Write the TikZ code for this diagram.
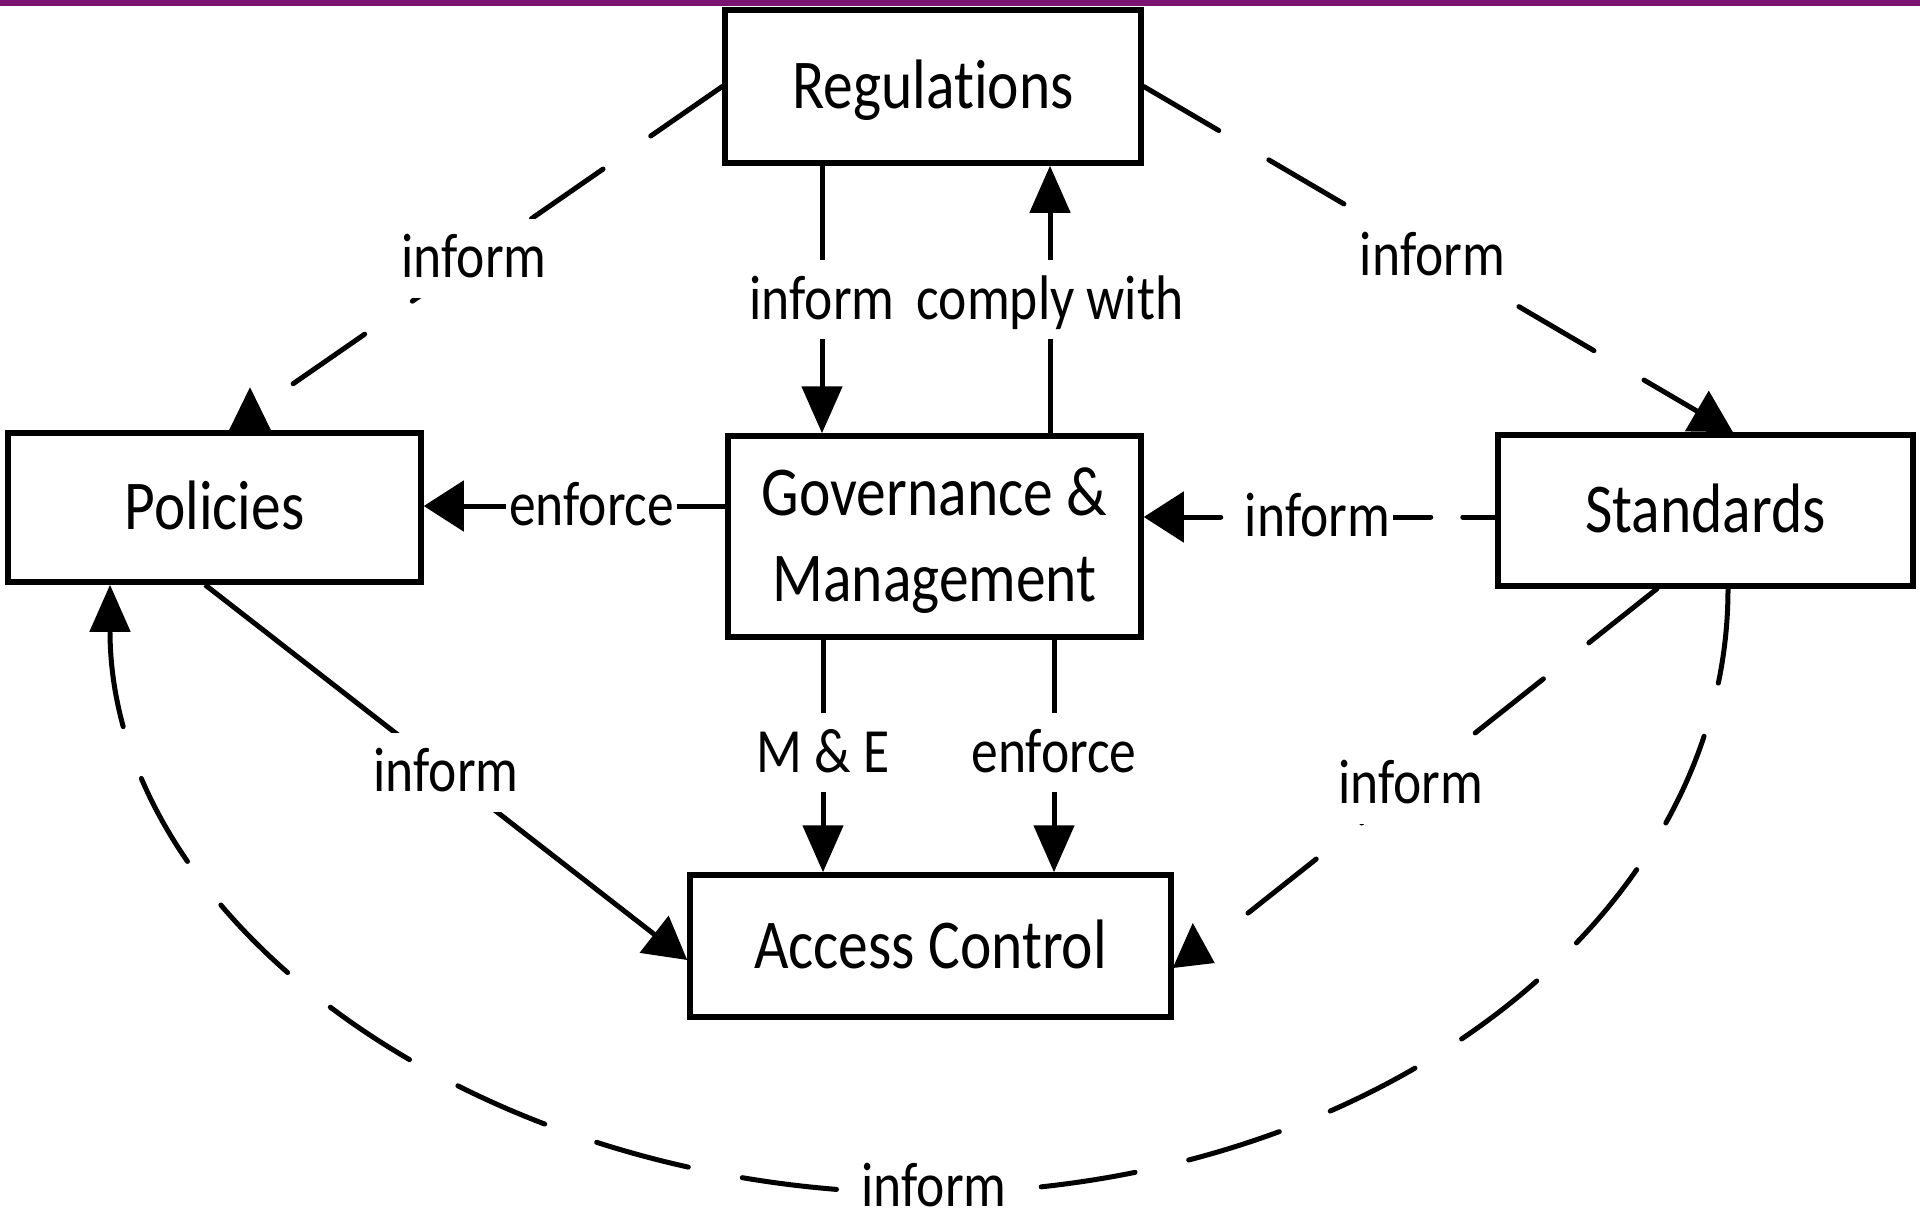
\documentclass[tikz,border=0pt]{standalone}
\usepackage{fontspec}
\setmainfont{Carlito}[FakeStretch=0.85, Ligatures=NoCommon]
\usetikzlibrary{arrows.meta}
\definecolor{barpurple}{RGB}{123,20,112}

\begin{document}
\begin{tikzpicture}[x=1pt,y=-1pt,
  box/.style={draw, line width=5.5pt, inner sep=0pt, font=\fontsize{70}{86}\selectfont},
  boxone/.style={box, text height=44pt, text depth=0pt},
  lab/.style={fill=white, inner xsep=3pt, inner ysep=20pt,
    font=\fontsize{63}{70}\selectfont, text height=39pt, text depth=0pt},
  conn/.style={line width=5pt},
  dashedline/.style={conn, line cap=round, dash pattern=on 87pt off 58pt},
  tipV/.style={-{Triangle[length=47pt,width=40pt]}},
  tipH/.style={-{Triangle[length=40pt,width=50pt]}},
  tipD/.style={-{Triangle[length=42pt,width=46pt]}},
]
\useasboundingbox (0,0) rectangle (1920,1223);

% top rule
\fill[barpurple] (0,0) rectangle (1920,6);

% boxes
\node[boxone, minimum width=416pt, minimum height=153pt] (reg) at (933,86.5) {Regulations};
\node[boxone, minimum width=413pt, minimum height=149pt] (pol) at (214.5,507.5) {Policies};
\node[box, minimum width=413pt, minimum height=201pt, align=center] (gov) at (934.5,536.5)
  {\rule{0pt}{56pt}Governance \&\\Management};
\node[boxone, minimum width=415pt, minimum height=151pt] (std) at (1705.5,510.5) {Standards};
\node[boxone, minimum width=481pt, minimum height=142pt] (acc) at (930.5,946) {Access Control};

% regulations <-> governance
\draw[conn, tipV] ([xshift=-111pt]reg.south) -- node[lab]{inform} ([xshift=-111pt]reg.south |- gov.north);
\draw[conn, tipV] ([xshift=117pt]reg.south |- gov.north) -- node[lab]{comply with} ([xshift=117pt]reg.south);

% governance -> policies
\draw[conn, tipH] ([yshift=30.5pt]gov.west) -- node[lab, pos=0.443]{enforce} ([yshift=30.5pt]gov.west -| pol.east);

% standards -> governance
\draw[conn, tipH, line cap=round, dash pattern=on 38pt off 32pt, dash phase=5.5pt]
  ([yshift=-6.5pt]std.west) -- node[lab, pos=0.506]{inform} ([yshift=-6.5pt]std.west -| gov.east);

% governance -> access control
\draw[conn, tipV] ([xshift=-111.5pt]gov.south) -- node[lab, pos=0.487]{M \& E} ([xshift=-111.5pt]gov.south |- acc.north);
\draw[conn, tipV] ([xshift=119.5pt]gov.south) -- node[lab, pos=0.487]{enforce} ([xshift=119.5pt]gov.south |- acc.north);

% regulations -> policies
\draw[dashedline, shorten >=55pt] (reg.west) -- node[lab]{inform} ([xshift=11.5pt]pol.north);
\fill ([xshift=14.5pt]pol.north) -- ([xshift=56.5pt]pol.north) -- ([xshift=35.5pt,yshift=43pt]pol.north) -- cycle;

% regulations -> standards
\draw[dashedline, tipD] (reg.east) -- node[lab, pos=0.49]{inform} ([xshift=27.5pt]std.north);

% policies -> access control
\draw[conn, tipD] ([xshift=-9.5pt]pol.south) -- node[lab]{inform} ([yshift=-14pt]acc.west);

% standards -> access control
\draw[dashedline, shorten >=57pt] ([xshift=-48.5pt]std.south) -- node[lab, pos=0.51]{inform} ([yshift=-26pt]acc.east);
\fill ([xshift=-1pt,yshift=-22pt]acc.east) -- ([xshift=41pt,yshift=-17pt]acc.east) -- ([xshift=19pt,yshift=23pt]acc.east) -- cycle;

% standards -> policies, around the bottom
\draw[conn, line cap=round, dash pattern=on 95pt off 55pt, tipV]
  ([xshift=22.5pt]std.south) .. controls +(0,335) and +(443,0) .. (926,1193)
  node[lab, inner ysep=3pt, xshift=8pt, yshift=6pt]{inform}
  .. controls +(-450,0) and +(0,337) .. ([xshift=-104.5pt]pol.south);
\end{tikzpicture}
\end{document}
